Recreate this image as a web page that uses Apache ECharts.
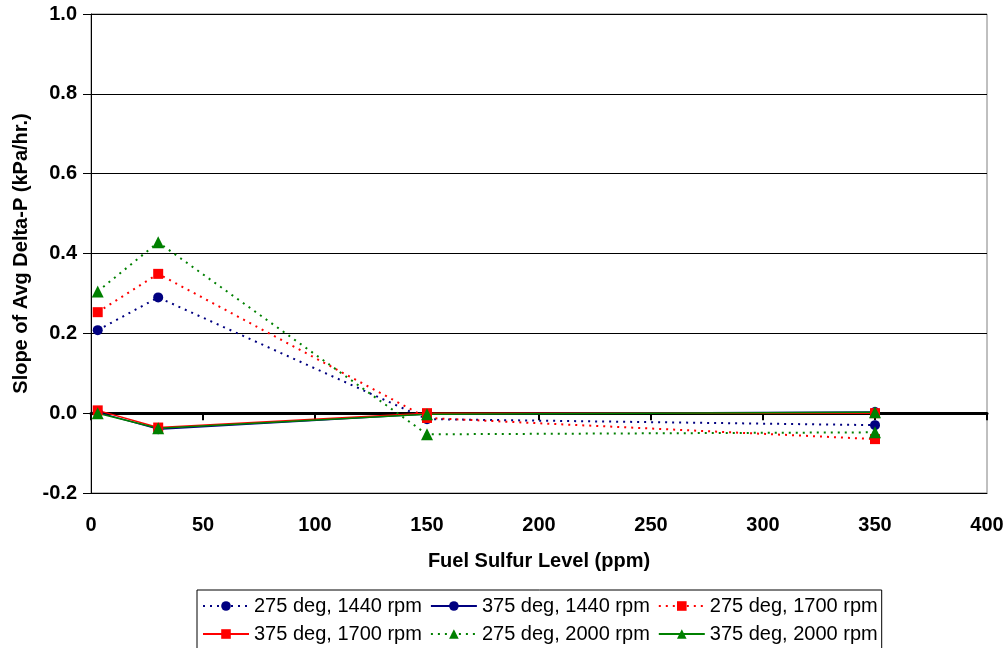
<!DOCTYPE html>
<html>
<head>
<meta charset="utf-8">
<script src="https://cdn.jsdelivr.net/npm/echarts@6/dist/echarts.min.js"></script>
<style>html,body{margin:0;padding:0;background:#fff;}#c{width:1008px;height:648px;}</style>
</head>
<body>
<div id="c"></div>
<script>
var sulfur = [3, 30, 150, 350];
var s275_1440 = [0.208, 0.290, -0.015, -0.030];
var s375_1440 = [0.002, -0.040, -0.002, 0.003];
var s275_1700 = [0.253, 0.349, -0.012, -0.065];
var s375_1700 = [0.007, -0.036, 0.000, 0.000];
var s275_2000 = [0.305, 0.428, -0.053, -0.048];
var s375_2000 = [0.000, -0.038, -0.003, 0.002];
var names = ['275 deg, 1440 rpm','375 deg, 1440 rpm','275 deg, 1700 rpm','375 deg, 1700 rpm','275 deg, 2000 rpm','375 deg, 2000 rpm'];

function pairs(ys){ return sulfur.map(function(x,i){ return [x, ys[i]]; }); }
function mk(name, ys, color, symbol, size, dotted){
  return {
    name: name, type: 'line', data: pairs(ys), xAxisIndex: 0,
    symbol: symbol, symbolSize: size, showSymbol: true,
    itemStyle: {color: color},
    lineStyle: {color: color, width: dotted ? 2 : 1.5, type: dotted ? [2,5] : 'solid'},
    z: 3, animation: false
  };
}
var font = 'Arial, "Liberation Sans", sans-serif';
var chart = echarts.init(document.getElementById('c'));
chart.setOption({
  animation: false,
  grid: {left: 91, right: 21, top: 14, bottom: 155, show: true, borderColor: '#808080', borderWidth: 1},
  xAxis: [{
    type: 'value', min: 0, max: 400, interval: 50, position: 'bottom',
    name: 'Fuel Sulfur Level (ppm)', nameLocation: 'middle', nameGap: 58,
    nameTextStyle: {fontFamily: font, fontWeight: 'bold', fontSize: 20, color: '#000'},
    axisLine: {onZero: false, lineStyle: {color: '#000', width: 1}},
    axisTick: {show: false},
    splitLine: {show: false},
    axisLabel: {fontFamily: font, fontWeight: 'bold', fontSize: 20, color: '#000', margin: 22}
  },{
    type: 'value', min: 0, max: 400, interval: 50, position: 'bottom',
    axisLine: {onZero: true, lineStyle: {color: '#000', width: 3}},
    axisTick: {show: true, length: 7, lineStyle: {color: '#000', width: 2}},
    axisLabel: {show: false}, splitLine: {show: false}
  }],
  yAxis: {
    type: 'value', min: -0.2, max: 1.0, interval: 0.2,
    name: 'Slope of Avg Delta-P (kPa/hr.)', nameLocation: 'middle', nameGap: 60,
    nameTextStyle: {fontFamily: font, fontWeight: 'bold', fontSize: 20, color: '#000'},
    axisLine: {show: true, lineStyle: {color: '#000', width: 1}},
    axisTick: {show: true, length: 8, lineStyle: {color: '#000'}},
    splitLine: {show: true, lineStyle: {color: '#000', width: 1}},
    axisLabel: {fontFamily: font, fontWeight: 'bold', fontSize: 20, color: '#000', margin: 14,
      formatter: function(v){ return v.toFixed(1); }}
  },
  legend: {
    left: 197, top: 590, width: 700,
    padding: [6, 4, 5, 5], itemGap: 8, itemWidth: 46, itemHeight: 12,
    borderColor: '#000', borderWidth: 1, backgroundColor: '#fff',
    textStyle: {fontFamily: font, fontSize: 20, color: '#000', lineHeight: 18},
    data: names
  },
  series: [
    mk(names[0], s275_1440, '#000080', 'circle', 10, true),
    mk(names[1], s375_1440, '#000080', 'circle', 10, false),
    mk(names[2], s275_1700, '#FF0000', 'rect', 10, true),
    mk(names[3], s375_1700, '#FF0000', 'rect', 10, false),
    mk(names[4], s275_2000, '#008000', 'triangle', 12, true),
    mk(names[5], s375_2000, '#008000', 'triangle', 12, false)
  ]
});
</script>
</body>
</html>
